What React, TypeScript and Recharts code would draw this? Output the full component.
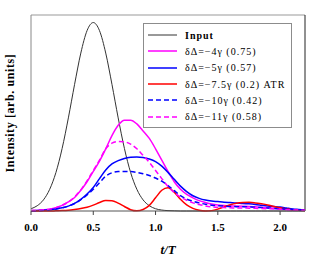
import { Legend, Line, LineChart, ReferenceLine, XAxis, YAxis } from 'recharts';

const FONT = '"Liberation Serif", "Times New Roman", serif';

// time axis, t/T
const T = [
	0, 0.05, 0.1, 0.15, 0.2, 0.25, 0.3, 0.35, 0.4, 0.45, 0.5, 0.55, 0.6, 0.65, 0.7, 0.75, 0.8, 0.85, 0.9, 0.95,
	1.0, 1.05, 1.1, 1.15, 1.2, 1.25, 1.3, 1.35, 1.4, 1.45, 1.5, 1.55, 1.6, 1.65, 1.7, 1.75, 1.8, 1.85, 1.9, 1.95,
	2.0, 2.05, 2.1, 2.15, 2.2,
];

const INPUT = [
	0.012, 0.028, 0.059, 0.115, 0.204, 0.332, 0.494, 0.672, 0.838, 0.957, 1.0, 0.957, 0.838, 0.672, 0.494, 0.332,
	0.204, 0.115, 0.059, 0.028, 0.012, 0.005, 0.002, 0.001, 0, 0, 0, 0, 0, 0, 0, 0, 0, 0, 0, 0, 0, 0, 0, 0, 0, 0,
	0, 0, 0,
];

const D4 = [
	0.002, 0.003, 0.006, 0.01, 0.018, 0.03, 0.048, 0.072, 0.11, 0.155, 0.21, 0.265, 0.33, 0.4, 0.455, 0.482, 0.482,
	0.462, 0.425, 0.385, 0.33, 0.27, 0.21, 0.155, 0.115, 0.088, 0.07, 0.055, 0.045, 0.037, 0.032, 0.029, 0.027,
	0.026, 0.025, 0.024, 0.022, 0.02, 0.017, 0.014, 0.011, 0.009, 0.007, 0.006, 0.005,
];

const D5 = [
	0.001, 0.002, 0.004, 0.007, 0.011, 0.017, 0.026, 0.04, 0.062, 0.09, 0.125, 0.172, 0.218, 0.25, 0.267, 0.279,
	0.285, 0.287, 0.284, 0.276, 0.262, 0.238, 0.205, 0.168, 0.132, 0.103, 0.081, 0.067, 0.058, 0.053, 0.05, 0.047,
	0.045, 0.043, 0.04, 0.038, 0.035, 0.031, 0.027, 0.024, 0.021, 0.016, 0.011, 0.008, 0.005,
];

const D75 = [
	0, 0, 0, 0, 0.001, 0.002, 0.004, 0.008, 0.013, 0.02, 0.031, 0.045, 0.056, 0.055, 0.042, 0.024, 0.007, 0.001,
	0.008, 0.03, 0.07, 0.11, 0.124, 0.1, 0.062, 0.032, 0.014, 0.004, 0, 0.002, 0.01, 0.022, 0.033, 0.041, 0.045,
	0.046, 0.043, 0.038, 0.032, 0.024, 0.017, 0.011, 0.007, 0.004, 0.003,
];

const D10 = [
	0.001, 0.002, 0.004, 0.007, 0.011, 0.017, 0.026, 0.04, 0.06, 0.085, 0.115, 0.15, 0.185, 0.203, 0.209, 0.21,
	0.209, 0.205, 0.198, 0.188, 0.175, 0.158, 0.135, 0.108, 0.082, 0.063, 0.052, 0.043, 0.036, 0.031, 0.028, 0.026,
	0.024, 0.023, 0.022, 0.021, 0.02, 0.018, 0.016, 0.014, 0.012, 0.01, 0.008, 0.006, 0.004,
];

const D11 = [
	0.002, 0.003, 0.006, 0.01, 0.018, 0.03, 0.048, 0.075, 0.112, 0.16, 0.215, 0.27, 0.33, 0.36, 0.369, 0.367,
	0.355, 0.33, 0.295, 0.258, 0.215, 0.172, 0.13, 0.097, 0.074, 0.057, 0.043, 0.034, 0.027, 0.022, 0.02, 0.018,
	0.017, 0.016, 0.016, 0.015, 0.014, 0.013, 0.012, 0.011, 0.009, 0.007, 0.006, 0.005, 0.004,
];

const X_TICKS = [0, 0.5, 1.0, 1.5, 2.0];

const SERIES = [
	{ key: 'input', name: 'Input', color: '#333333', width: 1, dash: undefined, bold: true },
	{ key: 'd4', name: 'δΔ=−4γ (0.75)', color: '#ff00ff', width: 1.5, dash: undefined, bold: false },
	{ key: 'd5', name: 'δΔ=−5γ (0.57)', color: '#0000ff', width: 1.5, dash: undefined, bold: false },
	{ key: 'd75', name: 'δΔ=−7.5γ (0.2) ATR', color: '#ff0000', width: 1.5, dash: undefined, bold: false },
	{ key: 'd10', name: 'δΔ=−10γ (0.42)', color: '#0000ff', width: 1.5, dash: '5 3', bold: false },
	{ key: 'd11', name: 'δΔ=−11γ (0.58)', color: '#ff00ff', width: 1.5, dash: '5 3', bold: false },
];

const data = T.map((t, i) => ({
	t,
	input: INPUT[i],
	d4: D4[i],
	d5: D5[i],
	d75: D75[i],
	d10: D10[i],
	d11: D11[i],
}));

function LegendBox() {
	return (
		<div
			style={{
				width: 149,
				height: 105,
				boxSizing: 'border-box',
				border: '1px solid #8c8c8c',
				background: '#fff',
				paddingTop: 3,
			}}
		>
			{SERIES.map((s) => (
				<div key={s.key} style={{ display: 'flex', alignItems: 'center', height: 16.3 }}>
					<svg width={41} height={8} style={{ flex: 'none' }}>
						<line
							x1={4}
							x2={33}
							y1={4}
							y2={4}
							stroke={s.color}
							strokeWidth={s.width}
							strokeDasharray={s.dash}
						/>
					</svg>
					<span
						style={{
							fontFamily: FONT,
							fontSize: 10,
							letterSpacing: 1,
							fontWeight: s.bold ? 'bold' : 'normal',
							whiteSpace: 'nowrap',
							color: '#000',
						}}
					>
						{s.name}
					</span>
				</div>
			))}
		</div>
	);
}

export default function App() {
	return (
		<div style={{ position: 'absolute', left: 0, top: 0, width: 320, height: 259, background: '#fff' }}>
			<LineChart width={320} height={259} data={data} margin={{ top: 15, right: 15, bottom: 0, left: 0 }}>
				<XAxis
					dataKey="t"
					type="number"
					domain={[0, 2.2]}
					ticks={X_TICKS}
					tickFormatter={(v: number) => v.toFixed(1)}
					tick={{ fill: '#000', fontSize: 11, fontWeight: 'bold', fontFamily: FONT }}
					tickLine={{ stroke: '#444' }}
					tickSize={4}
					tickMargin={8}
					axisLine={{ stroke: '#555' }}
					height={48}
					label={{
						value: 't/T',
						position: 'insideBottom',
						offset: 5,
						style: { fill: '#000', fontSize: 13, fontWeight: 'bold', fontStyle: 'italic', fontFamily: FONT },
					}}
				/>
				<YAxis
					type="number"
					domain={[0, 1.04]}
					tick={false}
					tickLine={false}
					axisLine={{ stroke: '#888' }}
					width={31}
					label={{
						value: 'Intensity [arb. units]',
						angle: -90,
						position: 'insideLeft',
						offset: 10,
						style: {
							textAnchor: 'middle',
							fill: '#000',
							fontSize: 12,
							fontWeight: 'bold',
							fontFamily: FONT,
							letterSpacing: 0.6,
						},
					}}
				/>
				{/* frame: top and right edges */}
				<ReferenceLine y={1.04} stroke="#999" />
				<ReferenceLine x={2.2} stroke="#222" />
				{SERIES.map((s) => (
					<Line
						key={s.key}
						dataKey={s.key}
						type="monotone"
						stroke={s.color}
						strokeWidth={s.width}
						strokeDasharray={s.dash}
						dot={false}
						activeDot={false}
						isAnimationActive={false}
					/>
				))}
				<Legend
					layout="vertical"
					align="center"
					verticalAlign="middle"
					content={() => <LegendBox />}
					wrapperStyle={{ position: 'absolute', left: 143, top: 23, width: 149, height: 105 }}
				/>
			</LineChart>
		</div>
	);
}
